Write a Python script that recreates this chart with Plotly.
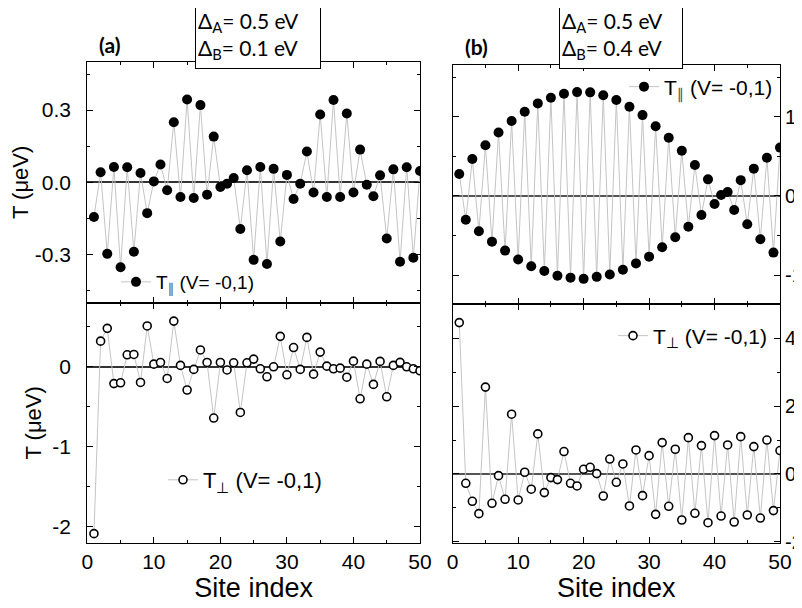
import plotly.graph_objects as go

site = list(range(1, 51))

t_par_a = [-0.144, 0.042, -0.297, 0.064, -0.353, 0.063, -0.288, 0.039, -0.128, 0.004,
           0.074, -0.033, 0.25, -0.061, 0.344, -0.065, 0.321, -0.051, 0.19, -0.019,
           -0.006, 0.018, -0.194, 0.05, -0.322, 0.064, -0.339, 0.056, -0.246, 0.031,
           -0.069, -0.006, 0.128, -0.042, 0.282, -0.061, 0.342, -0.061, 0.286, -0.042,
           0.136, -0.01, -0.058, 0.029, -0.233, 0.054, -0.33, 0.063, -0.313, 0.047]

t_perp_a = [-2.083, 0.32, 0.48, -0.21, -0.2, 0.15, 0.154, -0.196, 0.51, 0.033,
            0.054, -0.146, 0.57, 0.017, -0.29, -0.033, 0.21, 0.054, -0.64, 0.054,
            -0.04, 0.05, -0.57, 0.05, 0.096, -0.025, -0.125, 0.0, 0.38, -0.1,
            0.24, -0.033, 0.367, -0.092, 0.183, 0.008, -0.025, -0.017, -0.13, 0.07,
            -0.40, 0.033, -0.22, 0.067, -0.375, 0.017, 0.055, 0.0, -0.025, -0.05]

t_par_b = [0.277, -0.30, 0.466, -0.445, 0.639, -0.576, 0.80, -0.689, 0.945, -0.80,
           1.063, -0.887, 1.168, -0.945, 1.24, -1.005, 1.29, -1.03, 1.31, -1.045,
           1.307, -1.02, 1.27, -0.99, 1.21, -0.93, 1.126, -0.85, 1.02, -0.765,
           0.88, -0.647, 0.735, -0.52, 0.571, -0.387, 0.39, -0.24, 0.21, -0.10,
           0.013, 0.05, -0.176, 0.20, -0.357, 0.345, -0.546, 0.483, -0.714, 0.61]

t_perp_b = [4.46, -0.275, -0.806, -1.17, 2.56, -0.865, -0.05, -0.747, 1.76, -0.767,
            0.05, -0.45, 1.18, -0.55, -0.108, -0.167, 0.66, -0.275, -0.354, 0.138,
            0.197, 0.01, -0.65, 0.44, -0.246, 0.295, -0.944, 0.708, -0.64, 0.54,
            -1.19, 0.924, -0.954, 0.728, -1.357, 1.07, -1.16, 0.836, -1.436, 1.13,
            -1.24, 0.855, -1.416, 1.10, -1.21, 0.806, -1.30, 1.0, -1.08, 0.69]

name_par = ("T<sub><span style='font-family:DejaVu Sans;color:#555'>\u2225</span></sub>"
            " (V= -0,1)")
name_perp = "T<sub>\u22a5</sub> (V= -0,1)"

FONT = "Arial"
LINE_C = "#c4c4c4"

filled = dict(size=10, color="black", line=dict(width=0))
hollow = dict(size=8, color="white", line=dict(width=1.6, color="black"))

fig = go.Figure()
fig.add_trace(go.Scatter(x=site, y=t_par_a, mode="lines+markers", name=name_par,
                         line=dict(color=LINE_C, width=1), marker=filled, showlegend=True,
                         xaxis="x", yaxis="y", legend="legend"))
fig.add_trace(go.Scatter(x=site, y=t_perp_a, mode="lines+markers", name=name_perp,
                         line=dict(color=LINE_C, width=1), marker=hollow, showlegend=True,
                         xaxis="x2", yaxis="y2", legend="legend2"))
fig.add_trace(go.Scatter(x=site, y=t_par_b, mode="lines+markers", name=name_par,
                         line=dict(color=LINE_C, width=1), marker=filled, showlegend=True,
                         xaxis="x3", yaxis="y3", legend="legend3"))
fig.add_trace(go.Scatter(x=site, y=t_perp_b, mode="lines+markers", name=name_perp,
                         line=dict(color=LINE_C, width=1), marker=hollow, showlegend=True,
                         xaxis="x4", yaxis="y4", legend="legend4"))

# page body has an 8px default margin: figure is 794x600, screen coords minus 8
OFF = 8
W, H = 802 - OFF, 608 - OFF

def fx(p):
    return (p - OFF) / W
def fy(p):
    return 1 - (p - OFF) / H
def px_x(a, b):
    return [fx(a), fx(b)]
def px_y(top, bottom):
    return [fy(bottom), fy(top)]

LDOM = px_x(87.3, 420)
RDOM = px_x(452.7, 780)

tickfont = dict(family=FONT, size=21, color="black")
rtickfont = dict(family=FONT, size=20, color="black")

def xax(domain, anchor, labels):
    d = dict(domain=domain, anchor=anchor, range=[0, 50], tickvals=[0, 10, 20, 30, 40, 50],
             ticks="inside", ticklen=6, tickwidth=1, tickcolor="black",
             minor=dict(dtick=5, tick0=0, ticks="inside", ticklen=3, tickcolor="black"),
             showline=True, linecolor="black", linewidth=1.2, mirror="allticks",
             showgrid=False, zeroline=False, showticklabels=labels, tickfont=tickfont,
             fixedrange=True, automargin=False)
    if labels:
        d["title"] = dict(text="Site index", font=dict(family=FONT, size=27, color="black"),
                          standoff=4)
    return d

def yax(domain, anchor, rng, tickvals, ticktext, minor_dtick, side, zc, standoff, tf, title=None):
    d = dict(domain=domain, anchor=anchor, range=rng, tickvals=tickvals, ticktext=ticktext,
             ticks="inside", ticklen=6, tickwidth=1, tickcolor="black",
             minor=dict(dtick=minor_dtick, tick0=0, ticks="inside", ticklen=3, tickcolor="black"),
             showline=True, linecolor="black", linewidth=1.2, mirror="allticks",
             showgrid=False, zeroline=True, zerolinecolor=zc, zerolinewidth=1.5,
             side=side, tickfont=tf, ticklabelstandoff=standoff, fixedrange=True,
             automargin=False)
    if title:
        d["title"] = dict(text=title, font=dict(family=FONT, size=22, color="black"),
                          standoff=4)
    return d

layout = dict(
    width=W, height=H, margin=dict(l=0, r=0, t=0, b=0, autoexpand=False),
    paper_bgcolor="white", plot_bgcolor="white",
    font=dict(family=FONT, color="black"),
    showlegend=True,
    xaxis=xax(LDOM, "y", False),
    yaxis=yax(px_y(62, 302.7), "x", [-0.5, 0.5], [-0.3, 0, 0.3], ["-0.3", "0.0", "0.3"],
              0.15, "left", "#333333", 11, tickfont, "T (\u03bceV)"),
    xaxis2=xax(LDOM, "y2", True),
    yaxis2=yax(px_y(302.7, 543), "x2", [-2.2, 0.8], [-2, -1, 0], ["-2", "-1", "0"],
               0.5, "left", "#333333", 11, tickfont, "T (\u03bceV)"),
    xaxis3=xax(RDOM, "y3", False),
    yaxis3=yax(px_y(65, 304.3), "x3", [-1.366, 1.652], [-1, 0, 1], ["-1", "0", "1"],
               0.5, "right", "#555555", 0, rtickfont),
    xaxis4=xax(RDOM, "y4", True),
    yaxis4=yax(px_y(304.3, 543), "x4", [-2.035, 5.0], [-2, 0, 2, 4], ["-2", "0", "2", "4"],
               1, "right", "#555555", 0, rtickfont),
)

def leg(xpx, ypx, size):
    return dict(x=fx(xpx), y=fy(ypx), xanchor="left", yanchor="middle", visible=True,
                bgcolor="rgba(0,0,0,0)", borderwidth=0,
                font=dict(family=FONT, size=size, color="black"))

layout["legend"] = leg(116, 282, 19)
layout["legend2"] = leg(163, 480, 22)
layout["legend3"] = leg(624, 87, 21)
layout["legend4"] = leg(613, 336, 21)

fig.update_layout(**layout)

box_font = dict(family="Lato, Open Sans, sans-serif", size=21, color="black")
fig.add_annotation(xref="paper", yref="paper", x=fx(258), y=fy(35),
                   xanchor="center", yanchor="middle", showarrow=False, align="left",
                   text="\u0394<sub>A</sub>= 0.5 eV<br>\u0394<sub>B</sub>= 0.1 eV",
                   font=box_font, bgcolor="white", bordercolor="black", borderwidth=1,
                   borderpad=2, width=120, height=61)
fig.add_annotation(xref="paper", yref="paper", x=fx(620.5), y=fy(35),
                   xanchor="center", yanchor="middle", showarrow=False, align="left",
                   text="\u0394<sub>A</sub>= 0.5 eV<br>\u0394<sub>B</sub>= 0.4 eV",
                   font=box_font, bgcolor="white", bordercolor="black", borderwidth=1,
                   borderpad=2, width=118, height=61)
lab_font = dict(family="Lato, Open Sans, sans-serif", size=21, color="black")
fig.add_annotation(xref="paper", yref="paper", x=fx(109), y=fy(45), showarrow=False,
                   xanchor="center", yanchor="middle", text="<b>(a)</b>", font=lab_font)
fig.add_annotation(xref="paper", yref="paper", x=fx(476), y=fy(47), showarrow=False,
                   xanchor="center", yanchor="middle", text="<b>(b)</b>", font=lab_font)

fig.write_html("out.html")
